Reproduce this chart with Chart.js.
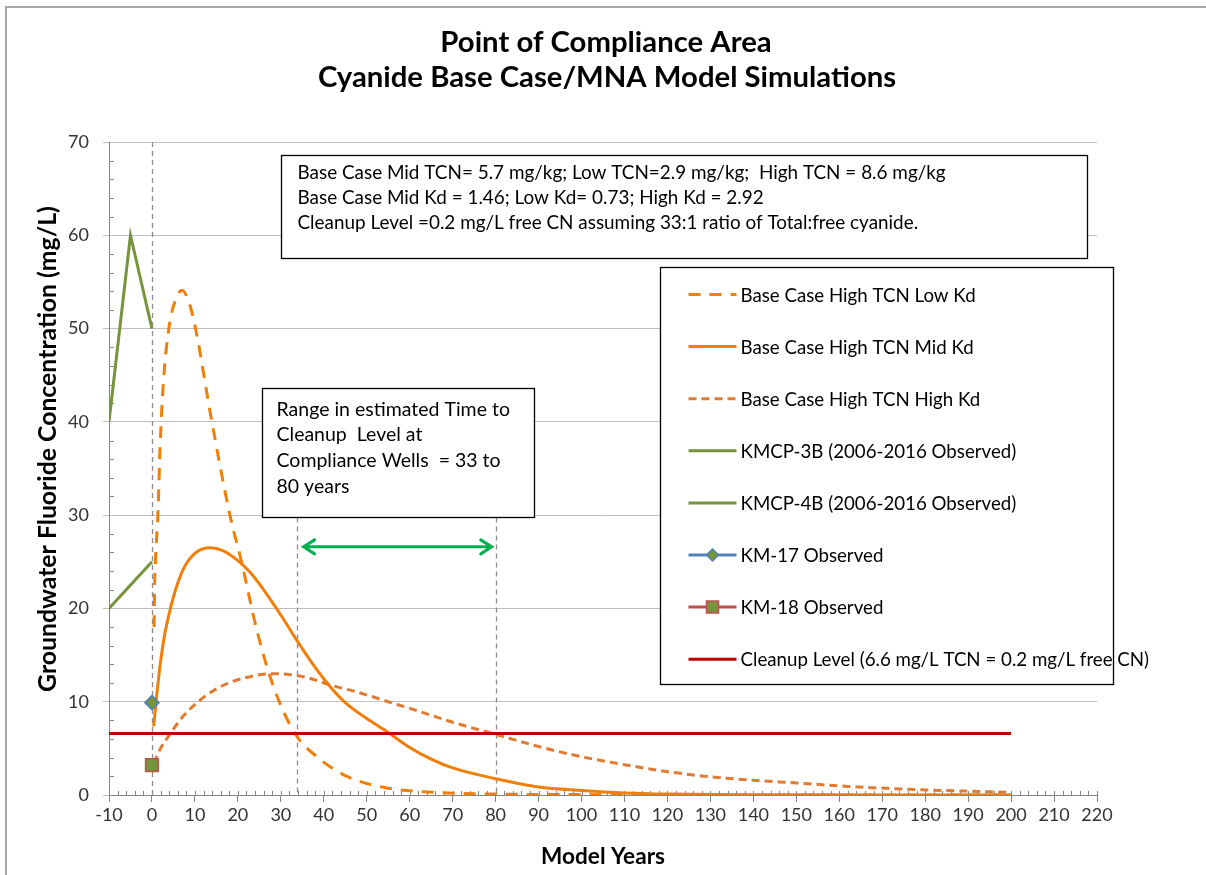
<!DOCTYPE html>
<html>
<head>
<meta charset="utf-8">
<script src="https://cdn.jsdelivr.net/npm/chart.js@4.4.1/dist/chart.umd.min.js"></script>
<style>
  html, body { margin: 0; padding: 0; background: #fff; }
  #wrap { width: 1206px; height: 875px; }
</style>
</head>
<body>
<div id="wrap"><canvas id="poc" width="1206" height="875"></canvas></div>
<script>
// model curves (years, total cyanide mg/L)
var lowKdYears  = [0.5, 0.6, 0.8, 1.4, 1.9, 2.7, 3.9, 5, 7, 8.9, 10.5, 13.6, 18.2, 20.9, 24.4, 28.3, 33.3, 38.4, 45.4, 54.7, 65, 80, 100, 150, 200];
var lowKdVals   = [18, 22, 25, 30.2, 37.4, 44.5, 49.9, 52.4, 54.1, 52.4, 49.2, 40.9, 29.9, 24.9, 17.7, 11.6, 6.6, 4.1, 2.0, 0.75, 0.3, 0.1, 0.04, 0, 0];

var midKdYears  = [0.4, 1, 2, 3, 4.3, 5.7, 7.4, 10, 13.6, 16.5, 19.8, 23, 26, 30, 33.7, 37.5, 41.5, 45, 50, 55, 60, 65, 70, 80, 90, 100, 110, 120, 140, 170, 200];
var midKdVals   = [7.35, 10.2, 14.3, 17.3, 20.0, 22.3, 24.3, 25.9, 26.5, 26.2, 25.2, 23.8, 22.0, 19.3, 16.6, 14.0, 11.6, 9.9, 8.2, 6.7, 5.1, 3.85, 2.9, 1.75, 0.85, 0.48, 0.22, 0.1, 0.03, 0.01, 0];

var highKdYears = [0.4, 2, 4.3, 7, 10.5, 14, 18.3, 22, 26, 29, 32.2, 36, 41.5, 48, 55, 62, 70, 80, 90, 100, 110, 120, 130, 140, 150, 162, 177, 200];
var highKdVals  = [3.4, 5.0, 6.6, 8.3, 9.9, 11.1, 12.1, 12.6, 12.95, 13.0, 12.9, 12.6, 11.8, 11.0, 10.0, 9.0, 7.8, 6.5, 5.2, 4.1, 3.25, 2.5, 1.95, 1.58, 1.29, 0.92, 0.6, 0.28];

// observed wells
var kmcp3bYears = [-10, -5, 0];
var kmcp3bVals  = [40, 60, 50];
var kmcp4bYears = [-10, 0];
var kmcp4bVals  = [20, 25];
var km17Years = [0];
var km17Vals  = [9.9];
var km18Years = [0];
var km18Vals  = [3.2];

var cleanupYears = [-10, 200];
var cleanupVals  = [6.6, 6.6];

var xTicks = { min: -10, max: 220, step: 10, minor: 2 };
var yTicks = { min: 0, max: 70, step: 10, minor: 2 };

var rangeYears = [33.7, 80];

var noteLines = [
  'Base Case Mid TCN= 5.7 mg/kg; Low TCN=2.9 mg/kg;  High TCN = 8.6 mg/kg',
  'Base Case Mid Kd = 1.46; Low Kd= 0.73; High Kd = 2.92',
  'Cleanup Level =0.2 mg/L free CN assuming 33:1 ratio of Total:free cyanide.'
];
var rangeLines = [
  'Range in estimated Time to',
  'Cleanup  Level at',
  'Compliance Wells  = 33 to',
  '80 years'
];

function pts(xs, ys) {
  return xs.map(function (x, i) { return { x: x, y: ys[i] }; });
}

var FONT = 'Lato, "Open Sans", sans-serif';
var ORANGE = '#F07F09';

function fitSize(ctx, text, weight, target) {
  ctx.font = (weight ? weight + ' ' : '') + '100px ' + FONT;
  return 100 * target / ctx.measureText(text).width;
}

// box drawn in data units
function box(ctx, sx, sy, x0, x1, y0, y1) {
  var l = Math.round(sx.getPixelForValue(x0)) + 0.5, r = Math.round(sx.getPixelForValue(x1)) + 0.5;
  var t = Math.round(sy.getPixelForValue(y0)) + 0.5, b = Math.round(sy.getPixelForValue(y1)) + 0.5;
  ctx.fillStyle = '#fff';
  ctx.fillRect(l, t, r - l, b - t);
  ctx.strokeStyle = '#000';
  ctx.lineWidth = 1.3;
  ctx.strokeRect(l, t, r - l, b - t);
  ctx.fillStyle = '#000';
  return { l: l, t: t, r: r, b: b };
}

var extras = {
  id: 'extras',
  beforeDatasetsDraw: function (chart) {
    var ctx = chart.ctx, sx = chart.scales.x, sy = chart.scales.y;
    ctx.save();
    // minor ticks inside the axes
    ctx.strokeStyle = '#868686';
    ctx.lineWidth = 1;
    var ybase = sy.getPixelForValue(0);
    for (var v = xTicks.min; v <= xTicks.max; v += xTicks.minor) {
      var px = Math.round(sx.getPixelForValue(v)) + 0.5;
      ctx.beginPath();
      ctx.moveTo(px, ybase - 4);
      ctx.lineTo(px, ybase);
      ctx.stroke();
    }
    var xbase = sx.getPixelForValue(xTicks.min);
    for (var w = yTicks.min; w <= yTicks.max; w += yTicks.minor) {
      if (w % yTicks.step === 0) continue;
      var py = Math.round(sy.getPixelForValue(w)) + 0.5;
      ctx.beginPath();
      ctx.moveTo(xbase, py);
      ctx.lineTo(xbase + 5, py);
      ctx.stroke();
    }
    // dashed reference lines
    ctx.strokeStyle = '#8c8c8c';
    ctx.lineWidth = 1.3;
    ctx.setLineDash([5, 4]);
    var x0 = Math.round(sx.getPixelForValue(0)) + 0.5;
    ctx.beginPath();
    ctx.moveTo(x0, sy.getPixelForValue(70));
    ctx.lineTo(x0, sy.getPixelForValue(0));
    ctx.stroke();
    rangeYears.forEach(function (yr) {
      var p = Math.round(sx.getPixelForValue(yr)) + 0.5;
      ctx.beginPath();
      ctx.moveTo(p, sy.getPixelForValue(29.75));
      ctx.lineTo(p, sy.getPixelForValue(0));
      ctx.stroke();
    });
    ctx.restore();
  },
  afterDatasetsDraw: function (chart) {
    var ctx = chart.ctx, sx = chart.scales.x, sy = chart.scales.y;
    ctx.save();
    ctx.textBaseline = 'middle';
    ctx.textAlign = 'left';

    // green double arrow
    var ay = sy.getPixelForValue(26.6);
    var a0 = sx.getPixelForValue(35.3), a1 = sx.getPixelForValue(79.1);
    ctx.strokeStyle = '#00B050';
    ctx.lineWidth = 3;
    ctx.lineCap = 'round';
    ctx.beginPath();
    ctx.moveTo(a0, ay); ctx.lineTo(a1, ay);
    ctx.moveTo(a0 + 11, ay - 7); ctx.lineTo(a0, ay); ctx.lineTo(a0 + 11, ay + 7);
    ctx.moveTo(a1 - 11, ay - 7); ctx.lineTo(a1, ay); ctx.lineTo(a1 - 11, ay + 7);
    ctx.stroke();
    ctx.lineCap = 'butt';

    // parameter note
    var b1 = box(ctx, sx, sy, 30.1, 217.6, 68.6, 57.6);
    var s1 = fitSize(ctx, noteLines[0], '', 648);
    ctx.font = s1.toFixed(1) + 'px ' + FONT;
    noteLines.forEach(function (t, i) { ctx.fillText(t, b1.l + 16, b1.t + 17 + i * 25.3); });

    // range note
    var b2 = box(ctx, sx, sy, 25.7, 88.9, 43.6, 29.75);
    var s2 = fitSize(ctx, rangeLines[0], '', 234);
    ctx.font = s2.toFixed(1) + 'px ' + FONT;
    rangeLines.forEach(function (t, i) { ctx.fillText(t, b2.l + 14, b2.t + 21 + i * 25.6); });

    // legend
    var lb = box(ctx, sx, sy, 118.3, 223.7, 56.65, 11.9);
    var s3 = fitSize(ctx, chart.data.datasets[0].label, '', 235);
    ctx.font = s3.toFixed(1) + 'px ' + FONT;
    chart.data.datasets.forEach(function (ds, i) {
      var y = lb.t + 27 + i * 52.1;
      var l = lb.l + 28, r = lb.l + 76, c = (l + r) / 2;
      ctx.save();
      ctx.strokeStyle = ds.borderColor;
      ctx.lineWidth = 3;
      ctx.setLineDash(ds.borderDash || []);
      ctx.beginPath();
      ctx.moveTo(l, y); ctx.lineTo(r, y);
      ctx.stroke();
      ctx.restore();
      if (ds.pointRadius > 0) {
        ctx.fillStyle = ds.pointBackgroundColor;
        ctx.strokeStyle = ds.pointBorderColor;
        ctx.lineWidth = ds.pointBorderWidth;
        ctx.beginPath();
        if (ds.pointStyle === 'rect') {
          var rr = 6;
          ctx.rect(c - rr, y - rr, rr * 2, rr * 2);
        } else {
          var d = 6;
          ctx.moveTo(c, y - d); ctx.lineTo(c + d, y);
          ctx.lineTo(c, y + d); ctx.lineTo(c - d, y); ctx.closePath();
        }
        ctx.fill(); ctx.stroke();
      }
      ctx.fillStyle = '#000';
      ctx.fillText(ds.label, lb.l + 80, y + 1);
    });
    ctx.restore();
  },
  afterDraw: function (chart) {
    var ctx = chart.ctx;
    ctx.save();
    // outer frame (top and left edges of the chart object)
    ctx.strokeStyle = '#a6a6a6';
    ctx.lineWidth = 2;
    ctx.beginPath();
    ctx.moveTo(6, 875); ctx.lineTo(6, 7); ctx.lineTo(1206, 7);
    ctx.stroke();

    ctx.fillStyle = '#000';
    ctx.textAlign = 'center';
    ctx.textBaseline = 'middle';
    var t1 = 'Point of Compliance Area', t2 = 'Cyanide Base Case/MNA Model Simulations';
    ctx.font = 'bold ' + fitSize(ctx, t2, 'bold', 579).toFixed(1) + 'px ' + FONT;
    ctx.fillText(t1, 606, 43);
    ctx.fillText(t2, 607, 78);

    var xt = 'Model Years';
    ctx.font = 'bold ' + fitSize(ctx, xt, 'bold', 124).toFixed(1) + 'px ' + FONT;
    ctx.fillText(xt, 603, 857);

    var yt = 'Groundwater Fluoride Concentration (mg/L)';
    ctx.font = 'bold ' + fitSize(ctx, yt, 'bold', 486).toFixed(1) + 'px ' + FONT;
    ctx.translate(48, 449);
    ctx.rotate(-Math.PI / 2);
    ctx.fillText(yt, 0, 0);
    ctx.restore();
  }
};

var ctxP = document.getElementById('poc').getContext('2d');
var pocChart = new Chart(ctxP, {
  type: 'line',
  data: {
    datasets: [{
      label: 'Base Case High TCN Low Kd',
      data: pts(lowKdYears, lowKdVals),
      borderColor: ORANGE,
      borderDash: [12, 9],
      borderWidth: 3,
      pointRadius: 0,
      cubicInterpolationMode: 'monotone'
    }, {
      label: 'Base Case High TCN Mid Kd',
      data: pts(midKdYears, midKdVals),
      borderColor: ORANGE,
      borderWidth: 3,
      pointRadius: 0,
      cubicInterpolationMode: 'monotone'
    }, {
      label: 'Base Case High TCN High Kd',
      data: pts(highKdYears, highKdVals),
      borderColor: '#E07B33',
      borderDash: [8, 5],
      borderWidth: 3,
      pointRadius: 0,
      cubicInterpolationMode: 'monotone'
    }, {
      label: 'KMCP-3B (2006-2016 Observed)',
      data: pts(kmcp3bYears, kmcp3bVals),
      borderColor: '#77933C',
      borderWidth: 3,
      pointRadius: 0
    }, {
      label: 'KMCP-4B (2006-2016 Observed)',
      data: pts(kmcp4bYears, kmcp4bVals),
      borderColor: '#77933C',
      borderWidth: 3,
      pointRadius: 0
    }, {
      label: 'KM-17 Observed',
      data: pts(km17Years, km17Vals),
      borderColor: '#4F81BD',
      borderWidth: 3,
      pointStyle: 'rectRot',
      pointRadius: 7,
      pointBackgroundColor: '#77933C',
      pointBorderColor: '#4F81BD',
      pointBorderWidth: 1.5,
      order: -2
    }, {
      label: 'KM-18 Observed',
      data: pts(km18Years, km18Vals),
      borderColor: '#C0504D',
      borderWidth: 3,
      pointStyle: 'rect',
      pointRadius: 9,
      pointBackgroundColor: '#77933C',
      pointBorderColor: '#C0504D',
      pointBorderWidth: 1.5,
      order: -2
    }, {
      label: 'Cleanup Level (6.6 mg/L TCN = 0.2 mg/L free CN)',
      data: pts(cleanupYears, cleanupVals),
      borderColor: '#C00000',
      borderWidth: 3,
      pointRadius: 0,
      order: -1
    }]
  },
  options: {
    responsive: false,
    animation: false,
    layout: { padding: { left: 0, right: 109, top: 142, bottom: 0 } },
    plugins: {
      legend: { display: false },
      tooltip: { enabled: false }
    },
    scales: {
      x: {
        type: 'linear',
        min: xTicks.min,
        max: xTicks.max,
        afterFit: function (s) { s.height = 80; },
        ticks: {
          stepSize: xTicks.step,
          color: '#333',
          padding: 2,
          font: { family: FONT, size: 18 }
        },
        grid: { drawOnChartArea: false, color: '#868686', tickLength: 7 },
        border: { color: '#868686', width: 1 }
      },
      y: {
        min: yTicks.min,
        max: yTicks.max,
        afterFit: function (s) { s.width = 109; },
        ticks: {
          stepSize: yTicks.step,
          color: '#333',
          padding: 14,
          font: { family: FONT, size: 18 }
        },
        grid: { color: '#bfbfbf', tickColor: '#bfbfbf', tickLength: 6 },
        border: { color: '#868686', width: 1 }
      }
    }
  },
  plugins: [extras]
});
</script>
</body>
</html>
